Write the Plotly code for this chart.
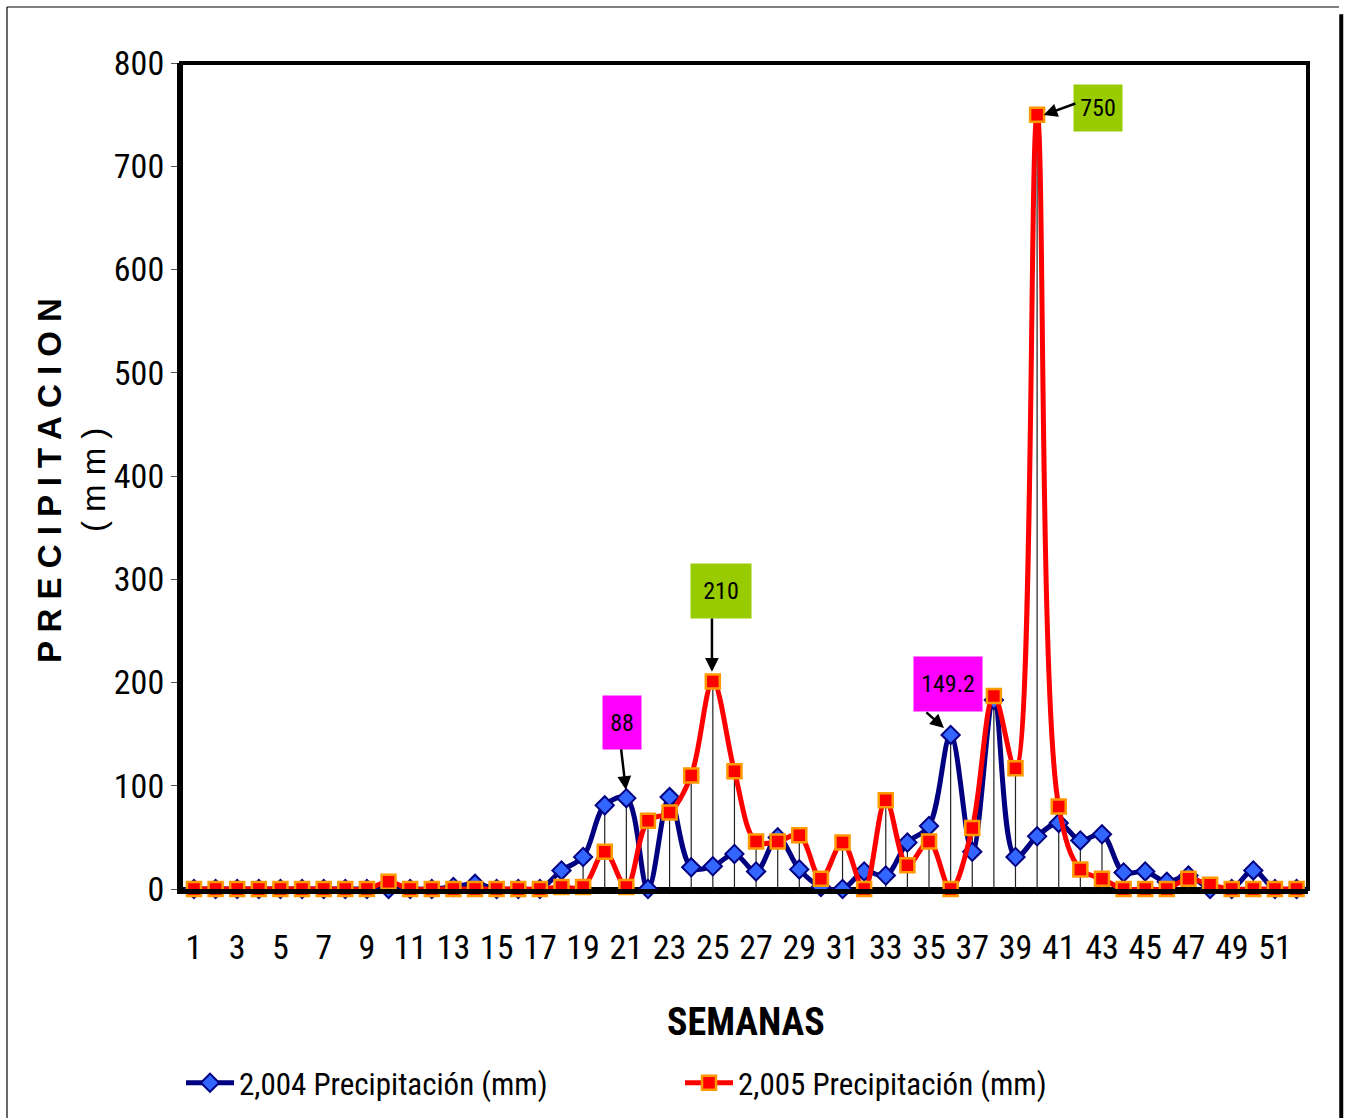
import plotly.graph_objects as go

weeks = list(range(1, 53))
prec_2004 = [0, 0, 0, 0, 0, 0, 0, 0, 0, 0,
             0, 0, 2, 5, 0, 0, 0, 18, 31, 81,
             88, 0, 89, 21, 22, 34, 17, 50, 19, 2,
             0, 17, 13, 45, 61, 149.2, 36, 183, 31, 51,
             64, 47, 53, 16, 17, 7, 13, 0, 0, 18,
             0, 0]
prec_2005 = [0, 0, 0, 0, 0, 0, 0, 0, 0, 7,
             0, 0, 0, 0, 0, 0, 0, 2, 2, 36,
             2, 66, 74, 110, 201, 114, 46, 46, 52, 10,
             45, 0, 86, 23, 46, 0, 59, 187, 117, 750,
             80, 19, 10, 0, 0, 0, 10, 4, 0, 0,
             0, 0]
x_ticks = list(range(1, 53, 2))
y_ticks = [0, 100, 200, 300, 400, 500, 600, 700, 800]

# callout labels: (text, box x, box y, box w, box h, color, tail x, tail y, head x, head y)
callouts = [
    ("88", 20.80, 161.7, 36, 51, "#FF00FF", 20.75, 136.6, 20.98, 96.0),
    ("210", 25.38, 288.6, 58, 52, "#99CC00", 24.96, 263.4, 24.96, 210.5),
    ("149.2", 35.87, 198.5, 66, 52, "#FF00FF", 34.81, 172.4, 35.69, 155.9),
    ("750", 42.81, 756.4, 46, 44, "#99CC00", 41.84, 761.3, 40.30, 749.6),
]

NARROW = "Liberation Sans Narrow, Arial Narrow, Roboto Condensed, Liberation Sans, sans-serif"

# drop lines from axis to the higher of the two series
dx, dy = [], []
for w, a, b in zip(weeks, prec_2004, prec_2005):
    dx += [w, w, None]
    dy += [0, max(a, b), None]

fig = go.Figure()
fig.add_trace(go.Scatter(x=dx, y=dy, mode="lines", line=dict(color="#222222", width=1.2),
                         showlegend=False, hoverinfo="skip", cliponaxis=False))
fig.add_trace(go.Scatter(
    x=weeks, y=prec_2004, name="2,004 Precipitación (mm)", mode="lines+markers",
    line=dict(color="#000080", width=5, shape="spline", smoothing=1),
    marker=dict(symbol="diamond", size=14, color="#3366FF", line=dict(color="#000080", width=2)),
    cliponaxis=False))
fig.add_trace(go.Scatter(
    x=weeks, y=prec_2005, name="2,005 Precipitación (mm)", mode="lines+markers",
    line=dict(color="#FF0000", width=5, shape="spline", smoothing=1),
    marker=dict(symbol="square", size=14, color="#FF0000", line=dict(color="#FF9900", width=2.5)),
    cliponaxis=False))

annotations = []
for text, bx, by, bw, bh, col, tx, ty, hx, hy in callouts:
    annotations.append(dict(x=bx, y=by, xref="x", yref="y", text=text, showarrow=False,
                            xanchor="center", yanchor="middle",
                            width=bw, height=bh, bgcolor=col, align="center", valign="middle",
                            font=dict(family=NARROW, size=24, color="black")))
    annotations.append(dict(x=hx, y=hy, ax=tx, ay=ty, xref="x", yref="y", axref="x", ayref="y",
                            text="", showarrow=True, arrowhead=2, arrowsize=1.1, arrowwidth=2.5,
                            arrowcolor="black"))

annotations.append(dict(x=-0.1162, y=0.494, xref="paper", yref="paper",
                        xanchor="center", yanchor="middle",
                        text="P R E C I P I T A C I O N", textangle=-90, showarrow=False,
                        font=dict(family="Liberation Sans, Arial, sans-serif", size=33, color="black",
                                  weight="bold")))
annotations.append(dict(x=-0.0781, y=0.495, xref="paper", yref="paper",
                        xanchor="center", yanchor="middle",
                        text="( m m )", textangle=-90, showarrow=False,
                        font=dict(family="Liberation Sans, Arial, sans-serif", size=33, color="black")))
annotations.append(dict(x=0.5013, y=-0.161, xref="paper", yref="paper",
                        xanchor="center", yanchor="middle",
                        text="<b>SEMANAS</b>", showarrow=False,
                        font=dict(family=NARROW, size=38, color="black")))

shapes = [
    dict(type="rect", xref="paper", yref="paper", x0=0, y0=0, x1=1, y1=1,
         line=dict(color="black", width=4), layer="below"),
    dict(type="line", xref="paper", yref="paper", x0=-0.1544, y0=1.0678, x1=1.0275, y1=1.0678,
         line=dict(color="black", width=1.2)),
    dict(type="line", xref="paper", yref="paper", x0=-0.1544, y0=1.0678, x1=-0.1544, y1=-0.30,
         line=dict(color="black", width=1.2)),
    dict(type="line", xref="paper", yref="paper", x0=1.0295, y0=1.059, x1=1.0295, y1=-0.30,
         line=dict(color="black", width=4)),
]

fig.update_layout(
    width=1346, height=1118,
    margin=dict(l=181, r=38, t=63, b=229, autoexpand=False),
    paper_bgcolor="white", plot_bgcolor="white",
    showlegend=True,
    legend=dict(orientation="h", x=0.0, xanchor="left", y=-0.235, yanchor="middle",
                font=dict(family=NARROW, size=31, color="black"),
                entrywidth=436, itemwidth=48, bgcolor="rgba(0,0,0,0)"),
    xaxis=dict(range=[0.4, 52.53], tickmode="array", tickvals=x_ticks,
               ticktext=[str(v) for v in x_ticks], showgrid=False, zeroline=False,
               ticks="outside", ticklen=24, tickcolor="rgba(0,0,0,0)",
               tickfont=dict(family=NARROW, size=34, color="black"),
               showline=True, linecolor="black", linewidth=5),
    yaxis=dict(range=[0, 800], tickmode="array", tickvals=y_ticks, showgrid=False, zeroline=False,
               ticks="outside", ticklen=6, tickcolor="#555555",
               tickfont=dict(family=NARROW, size=34, color="black"),
               showline=True, linecolor="black", linewidth=4),
    annotations=annotations,
    shapes=shapes,
)

fig.write_html("out.html")
